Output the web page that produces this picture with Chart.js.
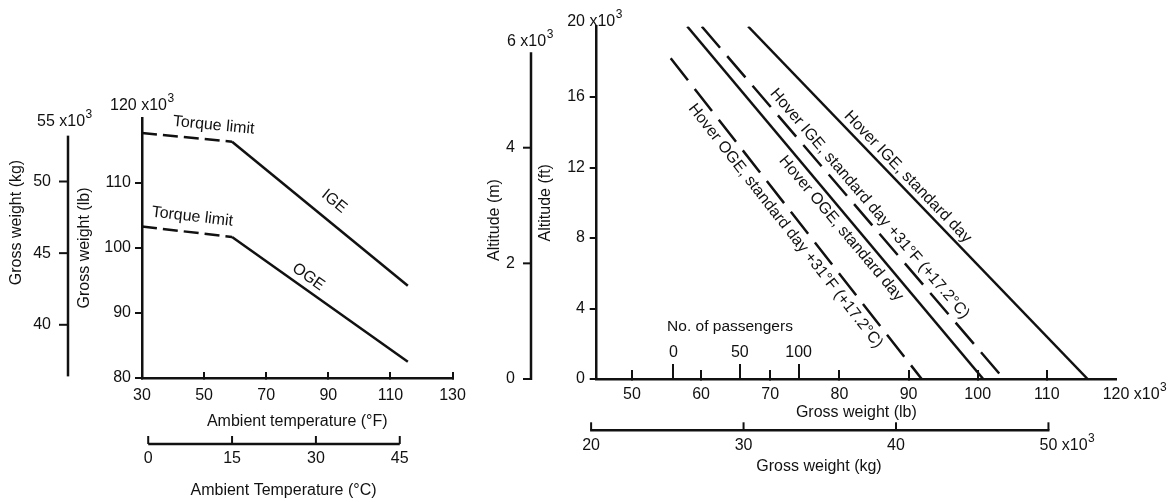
<!DOCTYPE html>
<html>
<head>
<meta charset="utf-8">
<script src="https://cdn.jsdelivr.net/npm/chart.js@4.4.1/dist/chart.umd.min.js"></script>
<style>
  html, body { margin: 0; padding: 0; background: #fff; }
  #wrap { position: relative; width: 1176px; height: 502px; overflow: hidden; background: #fff; }
  #c1 { position: absolute; left: 0; top: 0; }
  #c2 { position: absolute; left: 480px; top: 0; }
</style>
</head>
<body>
<div id="wrap">
  <canvas id="c1" width="480" height="502"></canvas>
  <canvas id="c2" width="696" height="502"></canvas>
</div>
<script>
// ---------------- DATA ----------------
// Left panel: gross weight (x10^3 lb) vs ambient temperature (deg F)
const tempF = [30, 59, 115.6];
const igeWeightLb = [117.7, 116.35, 94.2];
const ogeWeightLb = [103.3, 101.7, 82.5];
const tempFTicks = [30, 50, 70, 90, 110, 130];
const weightLbTicks = [80, 90, 100, 110];
const weightLbTop = 120;
const weightKgTicksLeft = [40, 45, 50];
const weightKgTopLeft = 55;
const kgAxisSpanLeft = [36.4, 53.2];
const tempCTicks = [0, 15, 30, 45];

// Right panel: altitude (x10^3 ft) vs gross weight (x10^3 lb)
const altFt = [20, 0];
const altFtOgeHot = [18.2, 0];
const igeStdLb = [66.8, 115.9];
const igeHotLb = [60.1, 103.8];
const ogeStdLb = [58.0, 100.8];
const ogeHotLb = [55.6, 91.9];
const grossLbTicks = [50, 60, 70, 80, 90, 100, 110];
const grossLbTop = 120;
const altFtTicks = [0, 4, 8, 12, 16];
const altFtTop = 20;
const altMTicks = [0, 2, 4];
const altMTop = 6;
const altMSpan = [0, 5.65];
const grossKgTicks = [20, 30, 40, 50];
const passengerTicks = [0, 50, 100];
const passengerLb = [56.0, 65.6, 74.1];

// ---------------- SETUP ----------------
const LB_PER_KG = 2.20462;
const FT_PER_M = 3.28084;
const INK = '#111';
const FAMILY = "'Liberation Sans', Arial, Helvetica, sans-serif";
Chart.defaults.font.family = FAMILY;
Chart.defaults.font.size = 16;
Chart.defaults.color = INK;

const toPts = (xs, ys) => xs.map((x, i) => ({ x: x, y: ys[i] }));
const setTicks = arr => (s => { s.ticks = arr.map(v => ({ value: v })); });

function seg(ctx, x0, y0, x1, y1, w) {
  ctx.beginPath(); ctx.lineWidth = w; ctx.moveTo(x0, y0); ctx.lineTo(x1, y1); ctx.stroke();
}
function txt(ctx, s, x, y, align, size) {
  ctx.font = (size || 16) + 'px ' + FAMILY;
  ctx.textAlign = align; ctx.textBaseline = 'middle';
  ctx.fillText(s, x, y);
}
function rotTxt(ctx, s, x, y, ang, size) {
  ctx.save(); ctx.translate(x, y); ctx.rotate(ang);
  txt(ctx, s, 0, 0, 'center', size); ctx.restore();
}
function supLabel(ctx, num, x, y, align) {
  ctx.font = '16px ' + FAMILY;
  const w = ctx.measureText(num).width;
  const start = align === 'right' ? x - w : (align === 'center' ? x - w / 2 : x);
  const main = num + ' x10';
  ctx.textAlign = 'left'; ctx.textBaseline = 'middle';
  ctx.fillText(main, start, y);
  const w2 = ctx.measureText(main).width;
  ctx.font = '12px ' + FAMILY;
  ctx.fillText('3', start + w2 + 0.5, y - 7);
}
function alongLabel(ctx, chart, ds, i0, t, d, s, size) {
  const pts = chart.getDatasetMeta(ds).data;
  const p0 = pts[i0], p1 = pts[i0 + 1];
  const dx = p1.x - p0.x, dy = p1.y - p0.y, len = Math.hypot(dx, dy);
  const nx = dy / len, ny = -dx / len;
  const cx = p0.x + dx * t + nx * d, cy = p0.y + dy * t + ny * d;
  rotTxt(ctx, s, cx, cy, Math.atan2(dy, dx), size);
}

const lineStyle = { showLine: true, borderColor: INK, backgroundColor: INK, borderWidth: 2.5, pointRadius: 0, pointHoverRadius: 0, fill: false };

// ---------------- LEFT CHART ----------------
const leftDecor = {
  id: 'leftDecor',
  afterDraw(chart) {
    const ctx = chart.ctx, xs = chart.scales.x, ys = chart.scales.y;
    ctx.save();
    ctx.strokeStyle = INK; ctx.fillStyle = INK;
    // kg axis
    const kx = 68;
    seg(ctx, kx, ys.getPixelForValue(kgAxisSpanLeft[1] * LB_PER_KG), kx, ys.getPixelForValue(kgAxisSpanLeft[0] * LB_PER_KG), 2.5);
    weightKgTicksLeft.forEach(v => {
      const y = ys.getPixelForValue(v * LB_PER_KG);
      seg(ctx, kx - 9, y, kx, y, 2);
      txt(ctx, String(v), 51, y, 'right');
    });
    supLabel(ctx, String(weightKgTopLeft), 37, 122, 'left');
    rotTxt(ctx, 'Gross weight (kg)', 17, 222.5, -Math.PI / 2);
    // top lb label
    supLabel(ctx, String(weightLbTop), 110, 106, 'left');
    // Celsius axis
    const cy = 444;
    const cx0 = xs.getPixelForValue(tempCTicks[0] * 1.8 + 32);
    const cx1 = xs.getPixelForValue(tempCTicks[tempCTicks.length - 1] * 1.8 + 32);
    seg(ctx, cx0, cy, cx1, cy, 2.5);
    tempCTicks.forEach(v => {
      const x = xs.getPixelForValue(v * 1.8 + 32);
      seg(ctx, x, cy - 8, x, cy, 2);
      txt(ctx, String(v), x, 458.3, 'center');
    });
    txt(ctx, 'Ambient Temperature (°C)', 283.5, 490.5, 'center');
    // line labels
    alongLabel(ctx, chart, 0, 0, 0.78, 14.5, 'Torque limit', 16);
    alongLabel(ctx, chart, 1, 0, 0.54, 15.5, 'Torque limit', 16);
    alongLabel(ctx, chart, 0, 1, 0.514, 18.5, 'IGE', 16);
    alongLabel(ctx, chart, 1, 1, 0.396, 11.5, 'OGE', 16);
    ctx.restore();
  }
};

new Chart(document.getElementById('c1'), {
  type: 'scatter',
  data: {
    datasets: [
      Object.assign({ label: 'IGE', data: toPts(tempF, igeWeightLb),
        segment: { borderDash: c => c.p0DataIndex === 0 ? [15, 6] : undefined } }, lineStyle),
      Object.assign({ label: 'OGE', data: toPts(tempF, ogeWeightLb),
        segment: { borderDash: c => c.p0DataIndex === 0 ? [15, 6] : undefined } }, lineStyle)
    ]
  },
  options: {
    responsive: false, animation: false, events: [],
    layout: { padding: { left: 75, top: 118, right: 15.7, bottom: 70.7 } },
    plugins: { legend: { display: false }, tooltip: { enabled: false } },
    scales: {
      x: {
        type: 'linear', min: 30, max: 130,
        afterBuildTicks: setTicks(tempFTicks),
        afterFit: s => { s.height = 53.3; },
        grid: { drawOnChartArea: false, tickLength: -6, color: INK, lineWidth: 2 },
        border: { color: INK, width: 2.5 },
        ticks: { padding: 14.1, autoSkip: false, maxRotation: 0, color: INK, font: { size: 16 } },
        title: { display: true, text: 'Ambient temperature (°F)', padding: 0, color: INK, font: { size: 16 } }
      },
      y: {
        type: 'linear', min: 80, max: 120,
        afterBuildTicks: setTicks(weightLbTicks),
        afterFit: s => { s.width = 67; },
        grid: { drawOnChartArea: false, tickLength: 7, color: INK, lineWidth: 2 },
        border: { color: INK, width: 2.5 },
        ticks: { padding: 4, autoSkip: false, color: INK, font: { size: 16 } },
        title: { display: true, text: 'Gross weight (lb)', padding: 0, color: INK, font: { size: 16 } }
      }
    }
  },
  plugins: [leftDecor]
});

// ---------------- RIGHT CHART ----------------
const OFF = 480;
const rightDecor = {
  id: 'rightDecor',
  afterDraw(chart) {
    const ctx = chart.ctx, xs = chart.scales.x, ys = chart.scales.y;
    ctx.save();
    ctx.strokeStyle = INK; ctx.fillStyle = INK;
    // metre axis
    const mx = 531 - OFF;
    seg(ctx, mx, ys.getPixelForValue(altMSpan[1] * FT_PER_M), mx, ys.getPixelForValue(altMSpan[0] * FT_PER_M) + 1, 2.5);
    altMTicks.forEach(v => {
      const y = ys.getPixelForValue(v * FT_PER_M);
      seg(ctx, mx - 8, y, mx, y, 2);
      txt(ctx, String(v), 515 - OFF, y, 'right');
    });
    supLabel(ctx, String(altMTop), 507 - OFF, 42, 'left');
    rotTxt(ctx, 'Altitude (m)', 495 - OFF, 220, -Math.PI / 2);
    // top labels of main axes
    supLabel(ctx, String(altFtTop), 585 - OFF, 22, 'right');
    supLabel(ctx, String(grossLbTop), xs.getPixelForValue(grossLbTop), 394.7, 'center');
    // kg axis
    const ky = 430.3;
    const last = grossKgTicks.length - 1;
    seg(ctx, xs.getPixelForValue(grossKgTicks[0] * LB_PER_KG) - 1, ky, xs.getPixelForValue(grossKgTicks[last] * LB_PER_KG) + 1, ky, 2.5);
    grossKgTicks.forEach((v, i) => {
      const x = xs.getPixelForValue(v * LB_PER_KG);
      seg(ctx, x, ky - 8, x, ky, 2);
      if (i < last) txt(ctx, String(v), x, 446, 'center');
      else supLabel(ctx, String(v), x, 446, 'center');
    });
    txt(ctx, 'Gross weight (kg)', 819 - OFF, 467, 'center');
    txt(ctx, 'No. of passengers', 730 - OFF, 327, 'center', 15.5);
    // line labels
    alongLabel(ctx, chart, 0, 0, 0.4475, 10.5, 'Hover IGE, standard day', 16);
    alongLabel(ctx, chart, 1, 0, 0.525, 12, 'Hover IGE, standard day +31°F (+17.2°C)', 16);
    alongLabel(ctx, chart, 2, 0, 0.551, -12, 'Hover OGE, standard day', 16);
    alongLabel(ctx, chart, 3, 0, 0.498, -13, 'Hover OGE, standard day +31°F (+17.2°C)', 16);
    ctx.restore();
  }
};

new Chart(document.getElementById('c2'), {
  type: 'scatter',
  data: {
    datasets: [
      Object.assign({ label: 'Hover IGE, standard day', data: toPts(igeStdLb, altFt) }, lineStyle),
      Object.assign({ label: 'Hover IGE, standard day +31°F', data: toPts(igeHotLb, altFt), borderDash: [28, 11] }, lineStyle),
      Object.assign({ label: 'Hover OGE, standard day', data: toPts(ogeStdLb, altFt) }, lineStyle),
      Object.assign({ label: 'Hover OGE, standard day +31°F', data: toPts(ogeHotLb, altFtOgeHot), borderDash: [28, 11] }, lineStyle)
    ]
  },
  options: {
    responsive: false, animation: false, events: [],
    layout: { padding: { left: 56.4, top: 26.5, right: 60, bottom: 79.7 } },
    plugins: { legend: { display: false }, tooltip: { enabled: false } },
    scales: {
      x: {
        type: 'linear', min: 44.9, max: 120,
        afterBuildTicks: setTicks(grossLbTicks),
        afterFit: s => { s.height = 43.3; },
        grid: { drawOnChartArea: false, tickLength: -9, color: INK, lineWidth: 2 },
        border: { color: INK, width: 2.5 },
        ticks: { padding: 15.1, autoSkip: false, maxRotation: 0, color: INK, font: { size: 16 } },
        title: { display: true, text: 'Gross weight (lb)', padding: 0, color: INK, font: { size: 16 } }
      },
      xp: {
        axis: 'x', type: 'linear', min: 44.9, max: 120,
        position: { y: 0 },
        afterBuildTicks: setTicks(passengerLb),
        grid: { drawOnChartArea: false, tickLength: -15, color: INK, lineWidth: 2 },
        border: { display: false },
        ticks: { padding: -20.6, autoSkip: false, maxRotation: 0, color: INK, font: { size: 16 } , 
                 callback: (v, i) => String(passengerTicks[i]) }
      },
      y: {
        type: 'linear', min: 0, max: 20,
        afterBuildTicks: setTicks(altFtTicks),
        afterFit: s => { s.width = 60.3; },
        grid: { drawOnChartArea: false, tickLength: 7, color: INK, lineWidth: 2 },
        border: { color: INK, width: 2.5 },
        ticks: { padding: 4.7, autoSkip: false, color: INK, font: { size: 16 } },
        title: { display: true, text: 'Altitude (ft)', padding: 0, color: INK, font: { size: 16 } }
      }
    }
  },
  plugins: [rightDecor]
});
</script>
</body>
</html>
